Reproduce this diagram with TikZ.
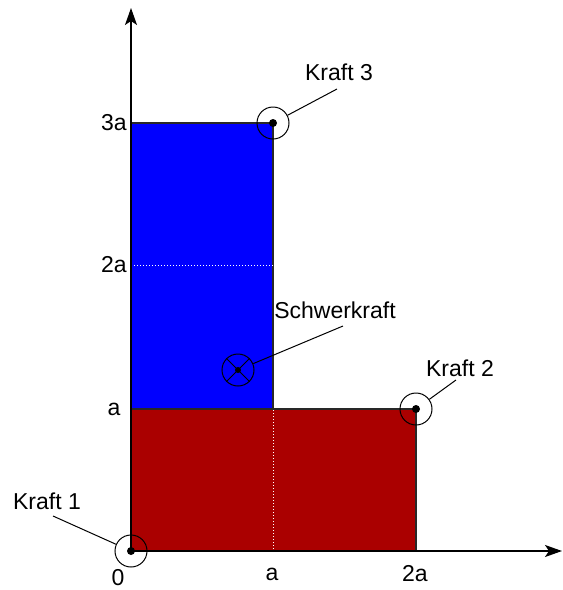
\documentclass[tikz,border=0pt]{standalone}
\usepackage{fontspec}
\setmainfont{Liberation Sans}
\usetikzlibrary{arrows.meta}
\begin{document}
\begin{tikzpicture}[x=1pt,y=-1pt,
  lbl/.style={font=\fontsize{23}{26}\selectfont, inner sep=0pt, anchor=center},
  ring/.style={circle, draw=black, line width=1pt, minimum size=32pt, inner sep=0pt},
  leader/.style={draw=black, line width=1pt},
  axis/.style={draw=black, line width=1.3pt, -{Stealth[length=17pt,width=12pt,inset=4pt]}},
  dotdiv/.style={draw=white, line width=1pt, dotted},
  region/.style={draw={rgb,255:red,40;green,40;blue,40}, line width=1.2pt}]
\useasboundingbox (0,0) rectangle (563,590);
% regions
\path[region, fill={rgb,255:red,0;green,0;blue,255}] (131,123) rectangle (273,409);
\path[region, fill={rgb,255:red,170;green,0;blue,0}] (131,409) rectangle (416,551);
\draw[dotdiv] (131,265) -- (273,265);
\draw[dotdiv] (273,410) -- (273,550);
% axes
\coordinate (O) at (131,551);
\coordinate (Ytop) at (131,8);
\coordinate (Xend) at (562,551);
\draw[axis] (O) -- (Ytop);
\draw[axis] (O) -- (Xend);
% points
\node[ring] (r1) at (131,551) {};
\node[ring] (r2) at (416,409) {};
\node[ring] (r3) at (273,123) {};
\node[ring] (rs) at (238,370) {};
\fill (r1.center) circle (4pt);
\fill (r2.center) circle (4pt);
\fill (r3.center) circle (4pt);
\fill (rs.center) circle (3pt);
\draw[line width=1pt] (rs.45) -- (rs.225) (rs.135) -- (rs.315);
% labels
\node[lbl] (k1) at (47,501) {Kraft 1};
\node[lbl] (k2) at (460,368) {Kraft 2};
\node[lbl] (k3) at (339,72) {Kraft 3};
\node[lbl] (ks) at (335,310) {Schwerkraft};
\coordinate (k1e) at (53,516);
\coordinate (k2e) at (456,380);
\coordinate (k3e) at (337,89);
\coordinate (kse) at (343,326);
\draw[leader] (k1e) -- (r1);
\draw[leader] (k2e) -- (r2);
\draw[leader] (k3e) -- (r3);
\draw[leader] (kse) -- (rs);
% ticks
\node[lbl] (t3a) at (114,123) {3a};
\node[lbl] (t2a) at (114,265) {2a};
\node[lbl] (t1a) at (114,409) {a};
\node[lbl] (t0) at (118,578) {0};
\node[lbl] (xa) at (272,574) {a};
\node[lbl] (x2a) at (415,574) {2a};
\end{tikzpicture}
\end{document}
